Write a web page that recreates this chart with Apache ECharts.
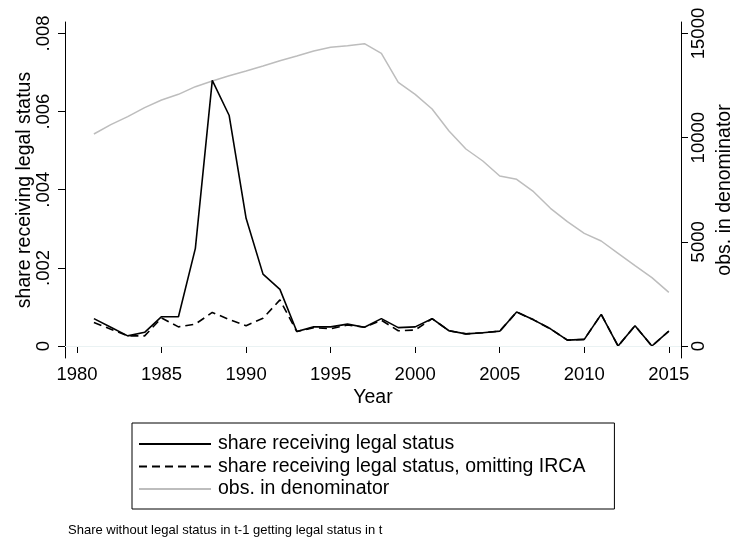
<!DOCTYPE html>
<html>
<head>
<meta charset="utf-8">
<script src="https://cdn.jsdelivr.net/npm/echarts@6/dist/echarts.min.js"></script>
<style>
  html, body { margin: 0; padding: 0; background: #fff; }
  #main { width: 732px; height: 542px; }
</style>
</head>
<body>
<div id="main"></div>
<script>
// data
var years = [1981, 1982, 1983, 1984, 1985, 1986, 1987, 1988, 1989, 1990,
  1991, 1992, 1993, 1994, 1995, 1996, 1997, 1998, 1999, 2000,
  2001, 2002, 2003, 2004, 2005, 2006, 2007, 2008, 2009, 2010,
  2011, 2012, 2013, 2014, 2015];
var shareLegal = [0.0007, 0.00048, 0.00026, 0.00035, 0.00075, 0.00075, 0.0025, 0.0068, 0.0059, 0.00327,
  0.00184, 0.00145, 0.00037, 0.00049, 0.00049, 0.00056, 0.00048, 0.0007, 0.00047, 0.00049,
  0.0007, 0.00039, 0.00031, 0.00034, 0.00038, 0.00087, 0.00067, 0.00044, 0.00015, 0.00017,
  0.00081, 0, 0.00052, 0, 0.00038];
var shareNoIrca = [0.0006, 0.00043, 0.00026, 0.00026, 0.00072, 0.00049, 0.00056, 0.00086, 0.00068, 0.00052,
  0.00071, 0.00118, 0.00037, 0.00047, 0.00044, 0.00054, 0.00048, 0.00066, 0.00039, 0.00041,
  0.0007, 0.00039, 0.00031, 0.00034, 0.00038, 0.00087, 0.00067, 0.00044, 0.00015, 0.00017,
  0.00081, 0, 0.00052, 0, 0.00038];
var obsDenom = [10176, 10624, 11008, 11440, 11808, 12080, 12448, 12720, 12976, 13200,
  13440, 13696, 13920, 14160, 14336, 14416, 14512, 14048, 12656, 12080,
  11376, 10320, 9456, 8880, 8160, 8000, 7408, 6608, 5968, 5408,
  5040, 4448, 3856, 3280, 2576];
var xTicks = [1980, 1985, 1990, 1995, 2000, 2005, 2010, 2015];
var leftTicks = [0, 0.002, 0.004, 0.006, 0.008];
var rightTicks = [0, 5000, 10000, 15000];

var seriesNames = ['share receiving legal status',
  'share receiving legal status, omitting IRCA',
  'obs. in denominator'];

var font = '"Liberation Sans", Arial, Helvetica, sans-serif';

function pairs(vals) {
  return years.map(function (y, i) { return [y, vals[i]]; });
}

var axisLineStyle = { color: '#000', width: 1 };

var chart = echarts.init(document.getElementById('main'));

var option = {
  animation: false,
  backgroundColor: '#fff',
  textStyle: { fontFamily: font },
  grid: { left: 65, right: 51, top: 22, bottom: 184, outerBoundsMode: 'none', containLabel: false },
  xAxis: {
    type: 'value',
    min: 1979.29,
    max: 2015.72,
    name: 'Year',
    nameLocation: 'middle',
    nameGap: 30,
    nameMoveOverlap: false,
    nameTextStyle: { fontSize: 19.5, color: '#000', fontFamily: font },
    axisLine: { show: true, lineStyle: axisLineStyle },
    axisTick: { show: true, length: 7, lineStyle: axisLineStyle, customValues: xTicks },
    axisLabel: {
      fontSize: 18.5, color: '#000', margin: 7, fontFamily: font, customValues: xTicks,
      formatter: function (v) { return String(v); }
    },
    splitLine: { show: false }
  },
  yAxis: [{
    type: 'value',
    position: 'left',
    min: -0.000307,
    max: 0.008294,
    name: 'share receiving legal status',
    nameLocation: 'middle',
    nameRotate: 90,
    nameGap: 30,
    nameMoveOverlap: false,
    nameTextStyle: { fontSize: 19.5, color: '#000', fontFamily: font },
    axisLine: { show: true, lineStyle: axisLineStyle },
    axisTick: { show: true, length: 7, lineStyle: axisLineStyle, customValues: leftTicks },
    axisLabel: {
      rotate: 90, fontSize: 18.5, color: '#000', margin: 12, fontFamily: font,
      customValues: leftTicks,
      formatter: function (v) { return v === 0 ? '0' : v.toFixed(3).replace(/^0/, ''); }
    },
    splitLine: { show: false }
  }, {
    type: 'value',
    position: 'right',
    min: -576,
    max: 15552,
    name: 'obs. in denominator',
    nameLocation: 'middle',
    nameRotate: 90,
    nameGap: 34,
    nameMoveOverlap: false,
    nameTextStyle: { fontSize: 19.5, color: '#000', fontFamily: font },
    axisLine: { show: true, lineStyle: axisLineStyle },
    axisTick: { show: true, length: 7, lineStyle: axisLineStyle, customValues: rightTicks },
    axisLabel: {
      rotate: 90, fontSize: 18.5, color: '#000', margin: 8, fontFamily: font,
      customValues: rightTicks,
      formatter: function (v) { return String(v); }
    },
    splitLine: { show: false }
  }],
  legend: {
    data: seriesNames,
    orient: 'vertical',
    left: 132,
    top: 423,
    itemWidth: 72,
    itemHeight: 14,
    itemGap: 2.5,
    padding: [11, 29, 10, 6],
    borderColor: '#000',
    borderWidth: 1,
    itemStyle: { opacity: 0, borderWidth: 0 },
    textStyle: { fontSize: 19.5, lineHeight: 20, color: '#000', fontFamily: font, padding: [0, 0, 0, 2] }
  },
  graphic: [{
    type: 'text',
    left: 68,
    top: 524,
    style: {
      text: 'Share without legal status in t-1 getting legal status in t',
      fontSize: 13,
      fontFamily: font,
      fill: '#000'
    }
  }],
  series: [{
    name: 'gridlines',
    type: 'line',
    data: [],
    z: 0,
    silent: true,
    markLine: {
      silent: true,
      symbol: ['none', 'none'],
      label: { show: false },
      lineStyle: { color: '#eaf2f3', type: 'solid', width: 1.2 },
      data: leftTicks.map(function (t) { return { yAxis: t }; })
    }
  }, {
    name: seriesNames[2],
    type: 'line',
    yAxisIndex: 1,
    data: pairs(obsDenom),
    showSymbol: false,
    symbol: 'none',
    z: 1,
    lineStyle: { color: '#bdbdbd', width: 1.5 },
    itemStyle: { color: '#bdbdbd' }
  }, {
    name: seriesNames[0],
    type: 'line',
    yAxisIndex: 0,
    data: pairs(shareLegal),
    showSymbol: false,
    symbol: 'none',
    z: 3,
    lineStyle: { color: '#000', width: 1.6 },
    itemStyle: { color: '#000' }
  }, {
    name: seriesNames[1],
    type: 'line',
    yAxisIndex: 0,
    data: pairs(shareNoIrca),
    showSymbol: false,
    symbol: 'none',
    z: 2,
    lineStyle: { color: '#000', width: 1.6, type: [8, 5] },
    itemStyle: { color: '#000' }
  }]
};

chart.setOption(option);
</script>
</body>
</html>
